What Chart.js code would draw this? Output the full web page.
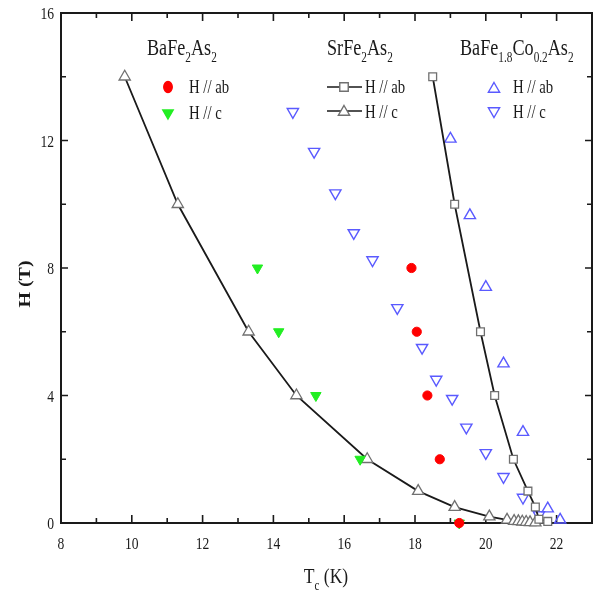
<!DOCTYPE html>
<html>
<head>
<meta charset="utf-8">
<script src="https://cdn.jsdelivr.net/npm/chart.js@4.4.1/dist/chart.umd.min.js"></script>
<style>
  body { margin: 0; background: #fff; }
  canvas { display: block; }
</style>
</head>
<body>
<canvas id="myChart" width="595" height="598"></canvas>
<script>
// SrFe2As2, H // ab (open squares + line)
const srAbT = [18.5, 19.12, 19.85, 20.25, 20.78, 21.19, 21.4, 21.5, 21.75];
const srAbH = [14, 10, 6, 4, 2, 1, 0.5, 0.12, 0.05];
// SrFe2As2, H // c (open triangles + line)
const srCT = [9.8, 11.3, 13.3, 14.65, 16.65, 18.09, 19.12, 20.1, 20.6, 20.8, 20.92, 21.03, 21.14, 21.25, 21.4];
const srCH = [14, 10, 6, 4, 2, 1, 0.5, 0.2, 0.1, 0.06, 0.05, 0.04, 0.03, 0.02, 0.01];
// BaFe2As2
const baAbT = [17.9, 18.05, 18.35, 18.7, 19.25];
const baAbH = [8, 6, 4, 2, 0];
const baCT = [13.55, 14.15, 15.2, 16.45, 19.25];
const baCH = [8, 6, 4, 2, 0];
// BaFe1.8Co0.2As2
const coAbT = [19.0, 19.55, 20.0, 20.5, 21.05, 21.75, 22.1];
const coAbH = [12.05, 9.65, 7.4, 5.0, 2.85, 0.45, 0.1];
const coCT = [14.55, 15.15, 15.75, 16.27, 16.8, 17.5, 18.2, 18.6, 19.05, 19.45, 20.0, 20.5, 21.05, 21.5];
const coCH = [12.9, 11.65, 10.35, 9.1, 8.25, 6.75, 5.5, 4.5, 3.9, 3.0, 2.2, 1.45, 0.8, 0.25];

const xMin = 8, xMax = 23, xLabelMax = 22;
const yMin = 0, yMax = 16;

const BLUE = '#5a5aff';
const GRAY = '#707070';
const INK = '#1a1a1a';
const SERIF = '"Liberation Serif", "DejaVu Serif", serif';

function pts(xs, ys) {
    return xs.map(function(x, i) { return {x: x, y: ys[i]}; });
}

// text with subscripts, squeezed horizontally like the original figure
function richText(ctx, parts, x, y, size, opt) {
    opt = opt || {};
    const sx = opt.sx || 0.8;
    ctx.save();
    ctx.fillStyle = opt.color || INK;
    ctx.textBaseline = 'alphabetic';
    ctx.textAlign = 'left';
    let total = 0;
    parts.forEach(function(p) {
        const fs = p[1] ? size * 0.62 : size;
        ctx.font = (opt.bold ? 'bold ' : '') + fs + 'px ' + SERIF;
        total += ctx.measureText(p[0]).width;
    });
    ctx.translate(x, y);
    if (opt.rotate) ctx.rotate(opt.rotate);
    ctx.scale(sx, opt.sy || 1);
    let cx = 0;
    if (opt.align == 'center') cx = -total / 2;
    if (opt.align == 'right') cx = -total;
    parts.forEach(function(p) {
        const fs = p[1] ? size * 0.62 : size;
        ctx.font = (opt.bold ? 'bold ' : '') + fs + 'px ' + SERIF;
        ctx.fillText(p[0], cx, p[1] ? size * 0.3 : 0);
        cx += ctx.measureText(p[0]).width;
    });
    ctx.restore();
}

function marker(ctx, kind, x, y, r, stroke, fill) {
    ctx.save();
    ctx.strokeStyle = stroke;
    ctx.fillStyle = fill;
    ctx.lineWidth = 1.4;
    ctx.beginPath();
    if (kind == 'circle') {
        ctx.ellipse(x, y, r * 0.85, r * 1.1, 0, 0, Math.PI * 2);
    } else if (kind == 'rect') {
        const s = r * Math.SQRT1_2;
        ctx.rect(x - s, y - s, 2 * s, 2 * s);
    } else {
        const d = kind == 'down' ? -1 : 1;
        ctx.moveTo(x, y - d * r);
        ctx.lineTo(x + 0.866 * r, y + d * r * 0.5);
        ctx.lineTo(x - 0.866 * r, y + d * r * 0.5);
        ctx.closePath();
    }
    if (fill != 'none') ctx.fill();
    ctx.stroke();
    ctx.restore();
}

const framePlugin = {
    id: 'frame',
    beforeDatasetsDraw: function(chart) {
        const ctx = chart.ctx;
        const a = chart.chartArea;
        const xs = chart.scales.x, ys = chart.scales.y;
        ctx.save();
        ctx.strokeStyle = INK;
        ctx.lineWidth = 2;
        ctx.strokeRect(a.left, a.top, a.right - a.left, a.bottom - a.top);
        ctx.lineWidth = 1.6;
        ctx.beginPath();
        for (let v = xMin; v <= xMax; v++) {
            const px = xs.getPixelForValue(v);
            const len = v % 2 == 0 ? 8 : 5;
            ctx.moveTo(px, a.bottom); ctx.lineTo(px, a.bottom - len);
            ctx.moveTo(px, a.top); ctx.lineTo(px, a.top + len);
        }
        for (let v = yMin; v <= yMax; v += 2) {
            const py = ys.getPixelForValue(v);
            const len = v % 4 == 0 ? 7 : 5;
            ctx.moveTo(a.left, py); ctx.lineTo(a.left + len, py);
            ctx.moveTo(a.right, py); ctx.lineTo(a.right - len, py);
        }
        ctx.stroke();
        ctx.restore();
    },
    afterDraw: function(chart) {
        const ctx = chart.ctx;
        const a = chart.chartArea;
        const xs = chart.scales.x, ys = chart.scales.y;

        // tick labels
        xs.ticks.forEach(function(t) {
            if (t.value > xLabelMax) return;
            richText(ctx, [[String(t.value)]], xs.getPixelForValue(t.value), a.bottom + 26, 17, {align: 'center'});
        });
        ys.ticks.forEach(function(t) {
            richText(ctx, [[String(t.value)]], a.left - 7, ys.getPixelForValue(t.value) + 6, 17, {align: 'right'});
        });

        // axis titles
        richText(ctx, [['T'], ['c', 1], [' (K)']], 326, 583, 22, {align: 'center'});
        richText(ctx, [['H (T)']], 30, 284, 20, {align: 'center', bold: true, rotate: -Math.PI / 2, sx: 1, sy: 0.8});

        // group titles
        richText(ctx, [['BaFe'], ['2', 1], ['As'], ['2', 1]], 147, 55, 23, {sx: 0.79});
        richText(ctx, [['SrFe'], ['2', 1], ['As'], ['2', 1]], 327, 55, 23, {sx: 0.79});
        richText(ctx, [['BaFe'], ['1.8', 1], ['Co'], ['0.2', 1], ['As'], ['2', 1]], 460, 55, 23, {sx: 0.79});

        // BaFe2As2 keys
        marker(ctx, 'circle', 168, 87, 5, '#ff0000', '#ff0000');
        marker(ctx, 'down', 168, 113, 6, '#22ee22', '#22ee22');
        richText(ctx, [['H // ab']], 189, 93, 18, {sx: 0.82});
        richText(ctx, [['H // c']], 189, 119, 18, {sx: 0.82});

        // SrFe2As2 keys
        ctx.save();
        ctx.strokeStyle = INK;
        ctx.lineWidth = 1.6;
        ctx.beginPath();
        ctx.moveTo(327, 87); ctx.lineTo(362, 87);
        ctx.moveTo(327, 111); ctx.lineTo(362, 111);
        ctx.stroke();
        ctx.restore();
        marker(ctx, 'rect', 344, 87, 6, GRAY, '#fff');
        marker(ctx, 'up', 344, 112, 6.5, GRAY, '#fff');
        richText(ctx, [['H // ab']], 365, 93, 18, {sx: 0.82});
        richText(ctx, [['H // c']], 365, 118, 18, {sx: 0.82});

        // BaFe1.8Co0.2As2 keys
        marker(ctx, 'up', 494, 89, 6.5, BLUE, 'none');
        marker(ctx, 'down', 494, 111, 6.5, BLUE, 'none');
        richText(ctx, [['H // ab']], 513, 93, 18, {sx: 0.82});
        richText(ctx, [['H // c']], 513, 118, 18, {sx: 0.82});
    }
};

const data = {
    datasets: [
        {
            label: 'BaFe2As2 H // ab',
            data: pts(baAbT, baAbH),
            pointStyle: 'circle',
            pointRadius: 4.6,
            pointBackgroundColor: '#ff0000',
            pointBorderColor: '#ff0000',
            showLine: false
        },
        {
            label: 'BaFe2As2 H // c',
            data: pts(baCT, baCH),
            pointStyle: 'triangle',
            pointRotation: 180,
            pointRadius: 6,
            pointBackgroundColor: '#22ee22',
            pointBorderColor: '#22ee22',
            showLine: false
        },
        {
            label: 'SrFe2As2 H // ab',
            data: pts(srAbT, srAbH),
            pointStyle: 'rect',
            pointRadius: 5.5,
            pointBorderWidth: 1.3,
            pointBackgroundColor: '#fff',
            pointBorderColor: GRAY,
            borderColor: INK,
            borderWidth: 1.8,
            showLine: true
        },
        {
            label: 'SrFe2As2 H // c',
            data: pts(srCT, srCH),
            pointStyle: 'triangle',
            pointRadius: 6.5,
            pointBorderWidth: 1.3,
            pointBackgroundColor: '#fff',
            pointBorderColor: GRAY,
            borderColor: INK,
            borderWidth: 1.8,
            showLine: true
        },
        {
            label: 'BaFe1.8Co0.2As2 H // ab',
            data: pts(coAbT, coAbH),
            pointStyle: 'triangle',
            pointRadius: 6.5,
            pointBorderWidth: 1.4,
            pointBackgroundColor: 'rgba(0,0,0,0)',
            pointBorderColor: BLUE,
            showLine: false
        },
        {
            label: 'BaFe1.8Co0.2As2 H // c',
            data: pts(coCT, coCH),
            pointStyle: 'triangle',
            pointRotation: 180,
            pointRadius: 6.5,
            pointBorderWidth: 1.4,
            pointBackgroundColor: 'rgba(0,0,0,0)',
            pointBorderColor: BLUE,
            showLine: false
        }
    ]
};

const config = {
    type: 'scatter',
    data,
    options: {
        responsive: false,
        animation: false,
        clip: false,
        layout: { autoPadding: false, padding: { top: 13, right: 3, left: 0, bottom: 0 } },
        plugins: {
            legend: { display: false },
            tooltip: { enabled: false }
        },
        scales: {
            x: {
                type: 'linear',
                min: xMin,
                max: xMax,
                afterFit: function(s) { s.height = 75; },
                grid: { display: false, drawTicks: false },
                border: { display: false },
                ticks: { display: false, stepSize: 2, includeBounds: false }
            },
            y: {
                type: 'linear',
                min: yMin,
                max: yMax,
                afterFit: function(s) { s.width = 61; },
                grid: { display: false, drawTicks: false },
                border: { display: false },
                ticks: { display: false, stepSize: 4 }
            }
        }
    },
    plugins: [framePlugin]
};

const myChart = new Chart(document.getElementById('myChart'), config);
</script>
</body>
</html>
